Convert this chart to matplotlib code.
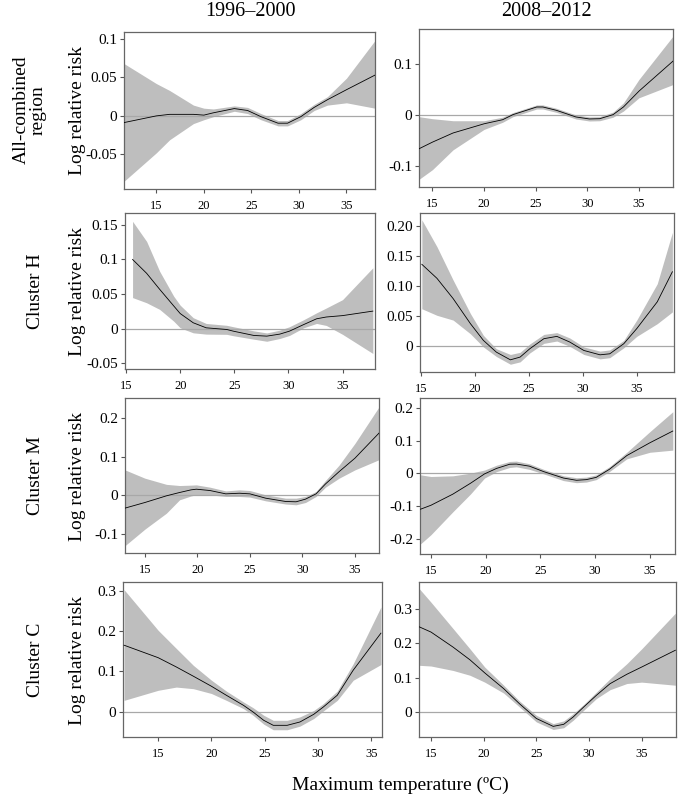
import matplotlib
matplotlib.use("Agg")
import matplotlib.pyplot as plt

plt.rcParams["font.family"] = ["Liberation Serif", "DejaVu Serif"]

# -------- Данные --------
col_titles = ["1996–2000", "2008–2012"]
row_labels = ["All-combined\nregion", "Cluster H", "Cluster M", "Cluster C"]
y_label = "Log relative risk"
x_label = "Maximum temperature (ºC)"

# All-combined, 1996-2000
t_all_96 = [11.6, 15, 16.4, 18.9, 20, 21, 23.2, 24.6, 26, 27.8, 28.8, 30.2, 31.6, 33, 35, 38]
rr_all_96 = [-0.0087, 0.0, 0.002, 0.002, 0.001, 0.004, 0.0095, 0.007, -0.001, -0.0095, -0.0095,
             -0.001, 0.011, 0.021, 0.034, 0.053]
hi_all_96 = [0.068, 0.042, 0.033, 0.014, 0.010, 0.009, 0.013, 0.011, 0.003, -0.006, -0.006,
             0.003, 0.015, 0.025, 0.049, 0.098]
lo_all_96 = [-0.085, -0.048, -0.031, -0.010, -0.005, -0.001, 0.006, 0.003, -0.005, -0.013, -0.013,
             -0.005, 0.007, 0.014, 0.017, 0.010]

# All-combined, 2008-2012
t_all_08 = [13.7, 15, 17, 20, 21.8, 22.8, 25.1, 25.7, 27, 28.9, 30.2, 31.2, 32.5, 33.5, 35, 38.3]
rr_all_08 = [-0.067, -0.054, -0.036, -0.018, -0.010, 0.0, 0.015, 0.015, 0.0085, -0.0046, -0.0085,
             -0.008, 0.0, 0.015, 0.046, 0.105]
hi_all_08 = [-0.004, -0.008, -0.012, -0.012, -0.005, 0.004, 0.019, 0.019, 0.0125, -0.0006, -0.0045,
             -0.004, 0.005, 0.023, 0.069, 0.154]
lo_all_08 = [-0.127, -0.108, -0.069, -0.029, -0.015, -0.004, 0.011, 0.011, 0.0045, -0.0086, -0.0125,
             -0.012, -0.005, 0.007, 0.033, 0.059]

# Cluster H, 1996-2000
t_h_96 = [15.6, 16.9, 18.1, 19.4, 20, 21.2, 22.4, 24.3, 24.9, 26.8, 28, 29.2, 30.1, 31.4, 32.6,
          33.5, 35, 37.8]
rr_h_96 = [0.1, 0.080, 0.057, 0.033, 0.022, 0.0087, 0.0014, -0.001, -0.0034, -0.0096, -0.0106,
           -0.0077, -0.0034, 0.006, 0.0144, 0.017, 0.019, 0.0255]
hi_h_96 = [0.155, 0.126, 0.083, 0.047, 0.034, 0.016, 0.0077, 0.005, 0.003, -0.003, -0.006,
           -0.002, 0.003, 0.013, 0.023, 0.030, 0.042, 0.088]
lo_h_96 = [0.045, 0.0375, 0.028, 0.011, 0.0014, -0.0058, -0.0077, -0.008, -0.010, -0.015, -0.018,
           -0.014, -0.0096, 0.0014, 0.0077, 0.0048, -0.008, -0.0356]

# Cluster H, 2008-2012
t_h_08 = [15.1, 16.5, 18, 19.6, 20.8, 22, 23.3, 24.2, 25.1, 26.4, 27.6, 28.8, 30.1, 31.6, 32.5,
          33.8, 35, 36.9, 38.3]
rr_h_08 = [0.1365, 0.113, 0.079, 0.037, 0.009, -0.0107, -0.0236, -0.019, -0.005, 0.0118, 0.0157,
           0.0062, -0.0079, -0.0152, -0.0135, 0.0034, 0.0287, 0.0736, 0.124]
hi_h_08 = [0.211, 0.166, 0.110, 0.0539, 0.0174, -0.005, -0.0146, -0.011, 0.003, 0.019, 0.022,
           0.013, -0.002, -0.009, -0.007, 0.009, 0.043, 0.104, 0.19]
lo_h_08 = [0.062, 0.051, 0.043, 0.020, -0.002, -0.018, -0.031, -0.027, -0.012, 0.004, 0.0079,
           -0.001, -0.0146, -0.022, -0.020, -0.0034, 0.0157, 0.037, 0.0567]

# Cluster M, 1996-2000
t_m_96 = [13.1, 15, 17.05, 18.3, 19.4, 19.9, 21.2, 22.7, 24, 25, 26.5, 28.4, 29.4, 30.3, 31.3,
          32.2, 33.5, 35, 37.3]
rr_m_96 = [-0.0336, -0.019, -0.0017, 0.0069, 0.0138, 0.0155, 0.012, 0.0034, 0.005, 0.0034, -0.0078,
           -0.0164, -0.0172, -0.0103, 0.0034, 0.029, 0.061, 0.0957, 0.161]
hi_m_96 = [0.0655, 0.044, 0.028, 0.025, 0.026, 0.0267, 0.0207, 0.011, 0.0138, 0.012, 0.0009,
           -0.0078, -0.0078, -0.0034, 0.0095, 0.038, 0.078, 0.134, 0.229]
lo_m_96 = [-0.131, -0.088, -0.0466, -0.012, -0.002, 0.0009, 0.0009, -0.0034, -0.0034, -0.005,
           -0.0147, -0.023, -0.025, -0.019, -0.0034, 0.0207, 0.044, 0.0655, 0.092]

# Cluster M, 2008-2012
t_m_08 = [14.05, 15, 17, 18.6, 19.9, 21, 22.2, 22.8, 24, 25.3, 27.1, 28.3, 29.2, 30.1, 31.3, 32.9,
          35, 37.1]
rr_m_08 = [-0.11, -0.098, -0.064, -0.031, -0.002, 0.0147, 0.0275, 0.028, 0.0216, 0.0049, -0.0147,
           -0.0216, -0.0196, -0.0127, 0.0118, 0.054, 0.093, 0.129]
hi_m_08 = [-0.005, -0.01, -0.008, 0.0, 0.0098, 0.0245, 0.036, 0.037, 0.029, 0.0118, -0.0078,
           -0.0137, -0.012, -0.005, 0.0196, 0.064, 0.127, 0.188]
lo_m_08 = [-0.216, -0.188, -0.118, -0.064, -0.0147, 0.0049, 0.0176, 0.0196, 0.0118, -0.002,
           -0.0225, -0.029, -0.027, -0.0196, 0.0049, 0.044, 0.064, 0.0706]

# Cluster C, 1996-2000
t_c_96 = [11.8, 15, 16.7, 18.3, 20.0, 21.4, 23.0, 23.9, 24.9, 25.8, 27.1, 28.3, 29.6, 30.5, 31.8,
          33.3, 35.9]
rr_c_96 = [0.165, 0.134, 0.111, 0.088, 0.063, 0.0406, 0.0157, -0.0008, -0.0215, -0.034, -0.034,
           -0.0257, -0.0066, 0.0116, 0.0406, 0.103, 0.195]
hi_c_96 = [0.303, 0.202, 0.157, 0.115, 0.078, 0.051, 0.024, 0.0099, -0.009, -0.0215, -0.0215,
           -0.013, 0.003, 0.02, 0.051, 0.119, 0.26]
lo_c_96 = [0.028, 0.053, 0.061, 0.057, 0.045, 0.028, 0.0075, -0.009, -0.031, -0.045, -0.045,
           -0.036, -0.017, 0.0017, 0.028, 0.078, 0.117]

# Cluster C, 2008-2012
t_c_08 = [13.9, 15, 17.1, 18.7, 20.1, 21.9, 23.4, 25, 26.6, 27.6, 28.5, 29.5, 30.7, 32, 33.6, 35,
          38.2]
rr_c_08 = [0.248, 0.233, 0.189, 0.152, 0.114, 0.068, 0.024, -0.019, -0.042, -0.036, -0.0146, 0.0146,
           0.0485, 0.0825, 0.11, 0.131, 0.18]
hi_c_08 = [0.359, 0.32, 0.243, 0.184, 0.131, 0.078, 0.032, -0.0097, -0.034, -0.026, -0.005, 0.022,
           0.058, 0.097, 0.141, 0.184, 0.288]
lo_c_08 = [0.136, 0.134, 0.121, 0.107, 0.087, 0.055, 0.0146, -0.029, -0.051, -0.046, -0.024, 0.005,
           0.039, 0.065, 0.083, 0.087, 0.078]

x_ticks = [15, 20, 25, 30, 35]

# -------- Оформление панелей: (данные, xlim, ylim, yticks, подписи, rect в пикселях) --------
W, H = 680, 801
panels = [
    ((t_all_96, rr_all_96, lo_all_96, hi_all_96), (11.6, 38.0), (-0.095, 0.109),
     [-0.05, 0, 0.05, 0.1], ["-0.05", "0", "0.05", "0.1"], (124, 32, 375, 189)),
    ((t_all_08, rr_all_08, lo_all_08, hi_all_08), (13.7, 38.3), (-0.142, 0.168),
     [-0.1, 0, 0.1], ["-0.1", "0", "0.1"], (419, 29, 673, 187)),
    ((t_h_96, rr_h_96, lo_h_96, hi_h_96), (14.9, 38.0), (-0.058, 0.167),
     [-0.05, 0, 0.05, 0.1, 0.15], ["-0.05", "0", "0.05", "0.1", "0.15"], (125, 213, 375, 369)),
    ((t_h_08, rr_h_08, lo_h_08, hi_h_08), (14.93, 38.45), (-0.044, 0.2225),
     [0, 0.05, 0.1, 0.15, 0.2], ["0", "0.05", "0.10", "0.15", "0.20"], (420, 213, 674, 372)),
    ((t_m_96, rr_m_96, lo_m_96, hi_m_96), (13.1, 37.3), (-0.15, 0.252),
     [-0.1, 0, 0.1, 0.2], ["-0.1", "0", "0.1", "0.2"], (125, 398, 379, 553)),
    ((t_m_08, rr_m_08, lo_m_08, hi_m_08), (14.0, 37.3), (-0.247, 0.23),
     [-0.2, -0.1, 0, 0.1, 0.2], ["-0.2", "-0.1", "0", "0.1", "0.2"], (420, 398, 675, 554)),
    ((t_c_96, rr_c_96, lo_c_96, hi_c_96), (11.7, 36.0), (-0.063, 0.322),
     [0, 0.1, 0.2, 0.3], ["0", "0.1", "0.2", "0.3"], (123, 582, 382, 737)),
    ((t_c_08, rr_c_08, lo_c_08, hi_c_08), (13.86, 38.26), (-0.073, 0.379),
     [0, 0.1, 0.2, 0.3], ["0", "0.1", "0.2", "0.3"], (419, 582, 676, 737)),
]

fig = plt.figure(figsize=(W / 100, H / 100), dpi=100)

for (t, rr, lo, hi), xl, yl, yt, ytl, (x0, y0, x1, y1) in panels:
    ax = fig.add_axes([x0 / W, 1 - y1 / H, (x1 - x0) / W, (y1 - y0) / H])
    ax.fill_between(t, lo, hi, color="#bebebe", linewidth=0)
    ax.axhline(0, color="#a8a8a8", linewidth=0.9, zorder=1)
    ax.plot(t, rr, color="black", linewidth=0.6, zorder=3)
    ax.set_xlim(*xl)
    ax.set_ylim(*yl)
    ax.set_xticks(x_ticks)
    ax.set_yticks(yt)
    ax.set_yticklabels(ytl)
    ax.tick_params(axis="x", labelsize=9, length=3, color="#555555", pad=5)
    ax.tick_params(axis="y", labelsize=11, length=3, color="#555555", pad=2)
    for sp in ax.spines.values():
        sp.set_color("#666666")
        sp.set_linewidth(0.9)

# заголовки колонок
fig.text(250 / W, 1 - 12 / H, col_titles[0], ha="center", va="center", fontsize=14.5)
fig.text(546 / W, 1 - 12 / H, col_titles[1], ha="center", va="center", fontsize=14.5)

# подписи строк и оси Y
row_centers = [110, 291, 476, 660]
for lbl, yc in zip(row_labels, row_centers):
    xc = 30 if "\n" in lbl else 35
    fig.text(xc / W, 1 - yc / H, lbl, ha="center", va="center", rotation=90,
             fontsize=14, linespacing=1.0)
    fig.text(77 / W, 1 - yc / H, y_label, ha="center", va="center", rotation=90, fontsize=14)

fig.text(400 / W, 1 - 785 / H, x_label, ha="center", va="center", fontsize=14)

fig.savefig("out.png", dpi=100)
